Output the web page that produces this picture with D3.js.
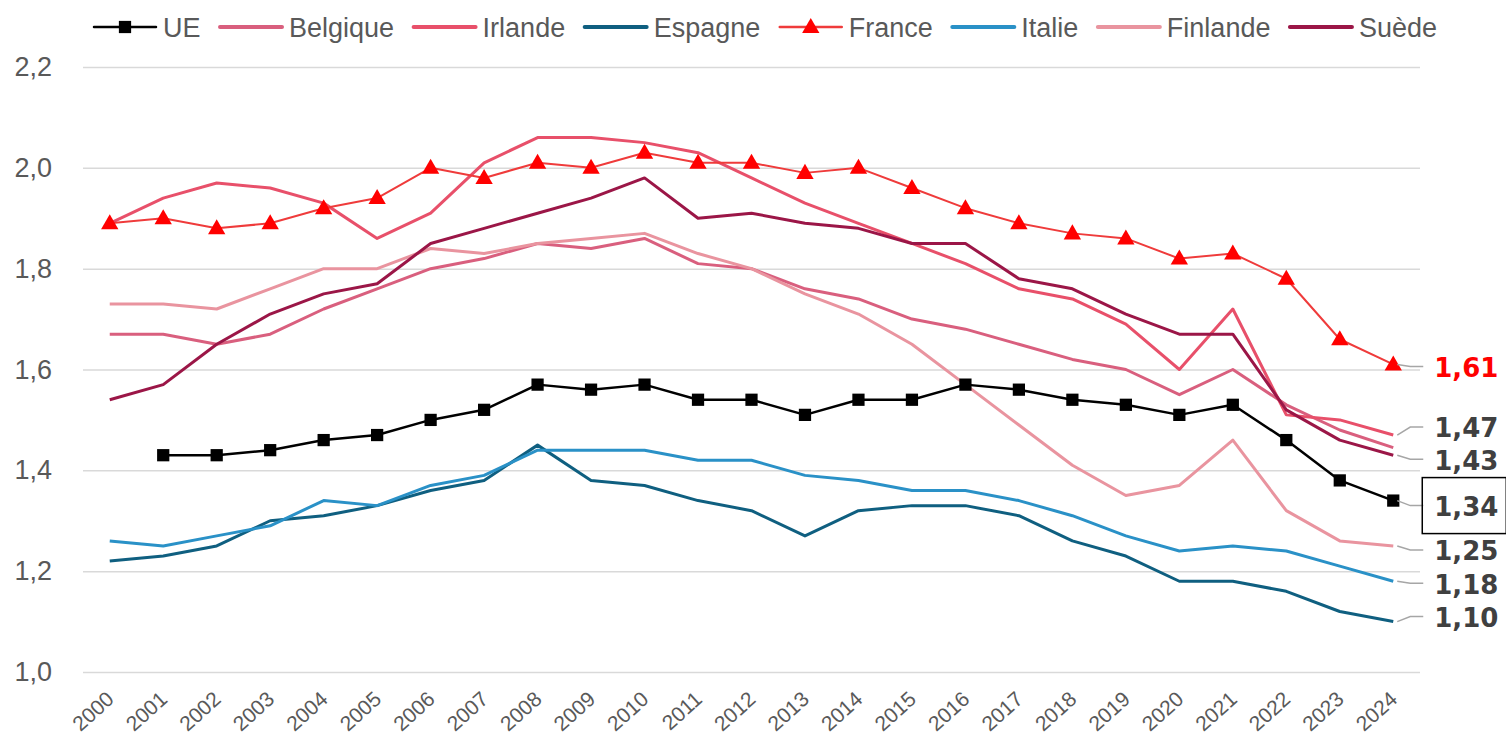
<!DOCTYPE html>
<html>
<head>
<meta charset="utf-8">
<script src="https://cdn.jsdelivr.net/npm/d3@7"></script>
<style>
  body { margin: 0; background: #fff; }
  svg text { font-family: "Liberation Sans", Arial, sans-serif; }
</style>
</head>
<body>
<div id="svg-container"></div>
<script>
// Chart size
const width = 1506;
const height = 736;

// Data (fécondité, 2000-2024)
const years = [2000, 2001, 2002, 2003, 2004, 2005, 2006, 2007, 2008, 2009, 2010, 2011, 2012,
               2013, 2014, 2015, 2016, 2017, 2018, 2019, 2020, 2021, 2022, 2023, 2024];

const ue       = [null, 1.43, 1.43, 1.44, 1.46, 1.47, 1.50, 1.52, 1.57, 1.56, 1.57, 1.54, 1.54,
                  1.51, 1.54, 1.54, 1.57, 1.56, 1.54, 1.53, 1.51, 1.53, 1.46, 1.38, 1.34];
const belgique = [1.67, 1.67, 1.65, 1.67, 1.72, 1.76, 1.80, 1.82, 1.85, 1.84, 1.86, 1.81, 1.80,
                  1.76, 1.74, 1.70, 1.68, 1.65, 1.62, 1.60, 1.55, 1.60, 1.53, 1.48, 1.445];
const irlande  = [1.89, 1.94, 1.97, 1.96, 1.93, 1.86, 1.91, 2.01, 2.06, 2.06, 2.05, 2.03, 1.98,
                  1.93, 1.89, 1.85, 1.81, 1.76, 1.74, 1.69, 1.60, 1.72, 1.51, 1.50, 1.47];
const espagne  = [1.22, 1.23, 1.25, 1.30, 1.31, 1.33, 1.36, 1.38, 1.45, 1.38, 1.37, 1.34, 1.32,
                  1.27, 1.32, 1.33, 1.33, 1.31, 1.26, 1.23, 1.18, 1.18, 1.16, 1.12, 1.10];
const france   = [1.89, 1.90, 1.88, 1.89, 1.92, 1.94, 2.00, 1.98, 2.01, 2.00, 2.03, 2.01, 2.01,
                  1.99, 2.00, 1.96, 1.92, 1.89, 1.87, 1.86, 1.82, 1.83, 1.78, 1.66, 1.61];
const italie   = [1.26, 1.25, 1.27, 1.29, 1.34, 1.33, 1.37, 1.39, 1.44, 1.44, 1.44, 1.42, 1.42,
                  1.39, 1.38, 1.36, 1.36, 1.34, 1.31, 1.27, 1.24, 1.25, 1.24, 1.21, 1.18];
const finlande = [1.73, 1.73, 1.72, 1.76, 1.80, 1.80, 1.84, 1.83, 1.85, 1.86, 1.87, 1.83, 1.80,
                  1.75, 1.71, 1.65, 1.57, 1.49, 1.41, 1.35, 1.37, 1.46, 1.32, 1.26, 1.25];
const suede    = [1.54, 1.57, 1.65, 1.71, 1.75, 1.77, 1.85, 1.88, 1.91, 1.94, 1.98, 1.90, 1.91,
                  1.89, 1.88, 1.85, 1.85, 1.78, 1.76, 1.71, 1.67, 1.67, 1.52, 1.46, 1.43];

const seriesNames = ["UE", "Belgique", "Irlande", "Espagne", "France", "Italie", "Finlande", "Suède"];
const seriesValues = [ue, belgique, irlande, espagne, france, italie, finlande, suede];

const yTicks = [1.0, 1.2, 1.4, 1.6, 1.8, 2.0, 2.2];

// Final-value labels (2024) shown on the right
const endLabels = [
  { name: "France",   text: "1,61" },
  { name: "Irlande",  text: "1,47" },
  { name: "Suède",    text: "1,43" },
  { name: "UE",       text: "1,34" },
  { name: "Finlande", text: "1,25" },
  { name: "Italie",   text: "1,18" },
  { name: "Espagne",  text: "1,10" }
];

// Styles
const colors = {
  "UE": "#000000",
  "Belgique": "#d95f7e",
  "Irlande": "#e8506a",
  "Espagne": "#0f5f80",
  "France": "#ef3b3b",
  "Italie": "#2a91c7",
  "Finlande": "#e9949f",
  "Suède": "#9b1647"
};
const widths = { "UE": 2.5, "France": 2 };
// small vertical shifts so the end labels don't overlap
const labelShift = { "France": 3, "Irlande": -7, "Suède": 5, "UE": 6, "Finlande": 5, "Italie": 3, "Espagne": -4 };

const plot = { left: 83, right: 1420, top: 67, bottom: 672 };

const series = seriesNames.map((name, i) => ({
  name: name,
  values: years.map((y, j) => ({ year: y, value: seriesValues[i][j] }))
}));

const xScale = d3.scalePoint()
  .domain(years)
  .range([plot.left, plot.right])
  .padding(0.5);

const yScale = d3.scaleLinear()
  .domain([1.0, 2.2])
  .range([plot.bottom, plot.top]);

const fmt = v => d3.format(".1f")(v).replace(".", ",");

const svg = d3.select("#svg-container")
  .append("svg")
    .attr("width", width)
    .attr("height", height);

// Gridlines + y labels
const yAxis = svg.append("g")
  .attr("transform", `translate(${plot.left}, 0)`)
  .call(d3.axisLeft(yScale).tickValues(yTicks).tickFormat(fmt)
          .tickSize(-(plot.right - plot.left)).tickPadding(31));
yAxis.select(".domain").remove();
yAxis.selectAll(".tick line").attr("stroke", "#d9d9d9").attr("stroke-width", 1.5);
yAxis.selectAll(".tick text")
  .attr("fill", "#595959")
  .style("font-size", "27px");

// x labels (rotated)
const xAxis = svg.append("g")
  .attr("transform", `translate(0, ${plot.bottom})`)
  .call(d3.axisBottom(xScale).tickSize(0).tickPadding(0));
xAxis.select(".domain").remove();
xAxis.selectAll(".tick text")
  .attr("fill", "#595959")
  .style("font-size", "21px")
  .attr("text-anchor", "end")
  .attr("dy", 0)
  .attr("y", 0)
  .attr("transform", "translate(5, 29) rotate(-42)");

// Lines
const line = d3.line()
  .defined(d => d.value != null)
  .x(d => xScale(d.year))
  .y(d => yScale(d.value));

svg.selectAll(".series")
  .data(series)
  .enter()
  .append("path")
    .attr("class", "series")
    .attr("d", d => line(d.values))
    .attr("fill", "none")
    .attr("stroke", d => colors[d.name])
    .attr("stroke-width", d => widths[d.name] || 3)
    .attr("stroke-linejoin", "round");

// Markers: squares for UE, triangles for France
const square = d3.symbol().type(d3.symbolSquare).size(150);
const triangle = d3.symbol().type(d3.symbolTriangle).size(130);

svg.selectAll(".ue-pt")
  .data(series[0].values.filter(d => d.value != null))
  .enter()
  .append("path")
    .attr("d", square)
    .attr("transform", d => `translate(${xScale(d.year)}, ${yScale(d.value)})`)
    .attr("fill", "#000");

svg.selectAll(".fr-pt")
  .data(series[4].values)
  .enter()
  .append("path")
    .attr("d", triangle)
    .attr("transform", d => `translate(${xScale(d.year)}, ${yScale(d.value) + 1})`)
    .attr("fill", "#ff0000");

// End labels with leader lines
const lastYear = years[years.length - 1];
const x0 = xScale(lastYear);
const labels = svg.append("g");
endLabels.forEach(l => {
  const s = series.find(d => d.name === l.name);
  const v = s.values[s.values.length - 1].value;
  const yv = yScale(v);
  const yl = yv + labelShift[l.name];
  labels.append("path")
    .attr("d", `M${x0 + 4},${yv} L${x0 + 17},${yl - 1} L${x0 + 30},${yl - 1}`)
    .attr("fill", "none")
    .attr("stroke", "#a6a6a6")
    .attr("stroke-width", 1.5);
  if (l.name === "UE") {
    labels.append("rect")
      .attr("x", x0 + 29).attr("y", yl - 29)
      .attr("width", 84).attr("height", 56)
      .attr("fill", "none").attr("stroke", "#000").attr("stroke-width", 1.5);
  }
  labels.append("text")
    .attr("x", x0 + 41)
    .attr("y", yl)
    .attr("dy", "0.36em")
    .text(l.text)
    .style("font-family", "'DejaVu Sans', sans-serif")
    .style("font-weight", "bold")
    .style("font-size", "26px")
    .attr("fill", l.name === "France" ? "#ff0000" : "#404040");
});

// Legend
const legend = svg.append("g").attr("transform", "translate(94, 27)");
let lx = 0;
seriesNames.forEach(name => {
  const g = legend.append("g").attr("transform", `translate(${lx}, 0)`);
  g.append("line")
    .attr("x1", 0).attr("x2", 62).attr("y1", 0).attr("y2", 0)
    .attr("stroke", colors[name])
    .attr("stroke-width", name === "UE" ? 2.5 : (name === "France" ? 2.5 : 4))
    .attr("stroke-linecap", "round");
  if (name === "UE") g.append("path").attr("d", square).attr("transform", "translate(31,0)").attr("fill", "#000");
  if (name === "France") g.append("path").attr("d", triangle).attr("transform", "translate(31,1)").attr("fill", "#ff0000");
  const t = g.append("text")
    .attr("x", 69).attr("y", 0).attr("dy", "0.36em")
    .attr("fill", "#595959")
    .style("font-size", "27px")
    .text(name);
  lx += 69 + t.node().getComputedTextLength() + 19.5;
});
</script>
</body>
</html>
